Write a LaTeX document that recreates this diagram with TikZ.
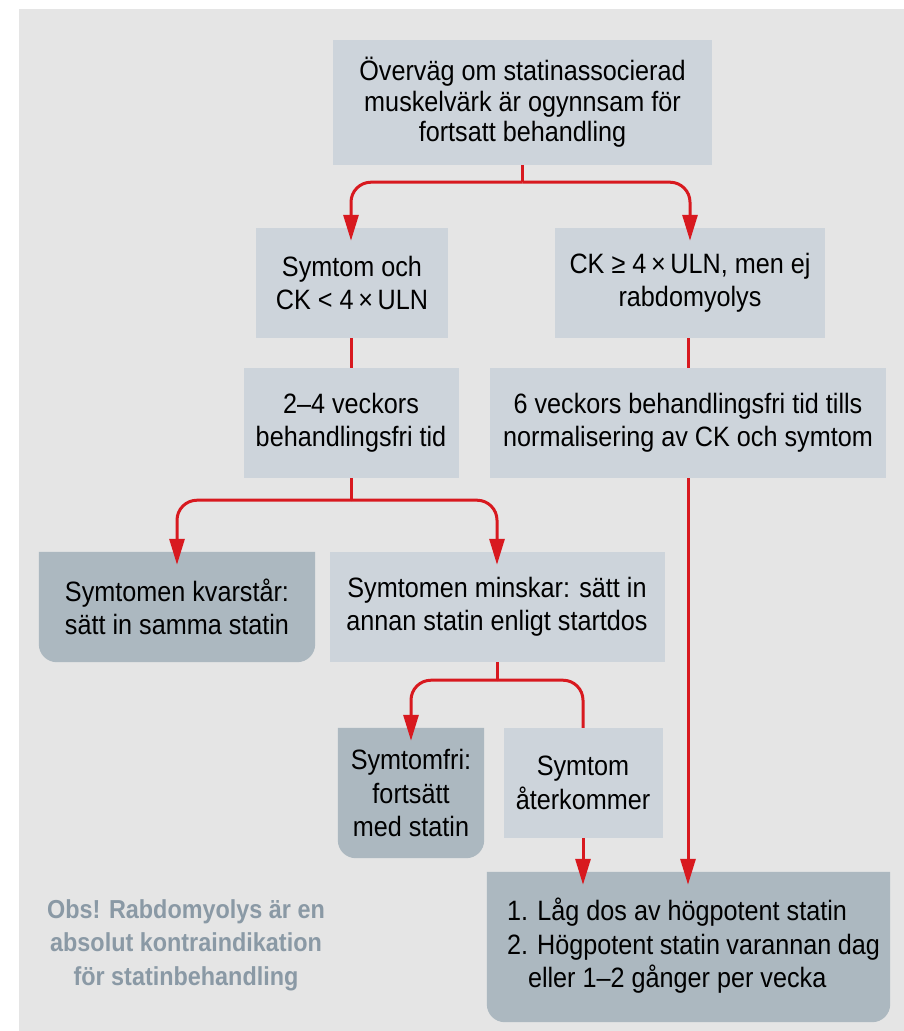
\documentclass[tikz,border=0pt]{standalone}
\usepackage{fontspec}
\setmainfont{Liberation Sans}[FakeStretch=0.9]
\usetikzlibrary{arrows.meta,backgrounds}
\definecolor{bgc}{HTML}{E5E5E5}
\definecolor{lightc}{HTML}{CDD4DB}
\definecolor{darkc}{HTML}{ACB8C0}
\definecolor{redc}{HTML}{D8191F}
\definecolor{notec}{HTML}{8A99A5}
\begin{document}
\begin{tikzpicture}[x=1pt,y=1pt,
  box/.style={inner sep=0pt, align=center, font=\fontsize{28}{33.5}\selectfont, text=black},
  lbox/.style={box, fill=lightc},
  dbox/.style={box},
  rline/.style={draw=redc, line width=3pt},
  rarrow/.style={rline, -{Triangle[width=15pt,length=26pt]}},
  darkfill/.style={fill=darkc},
]
\useasboundingbox (0,0) rectangle (904,-1031);
\begin{scope}[on background layer]
  \fill[bgc] (19,-9) rectangle (904,-1031);
\end{scope}

% boxes
\node[lbox, minimum width=379pt, minimum height=125pt, font=\fontsize{28}{30.5}\selectfont] (top) at (522.5,-102.5)
  {Överväg om statinassocierad\\muskelvärk är ogynnsam för\\fortsatt behandling};
\node[lbox, minimum width=192pt, minimum height=110pt] (A) at (352,-283)
  {Symtom och\\CK < 4\,×\,ULN};
\node[lbox, minimum width=270pt, minimum height=110pt] (B) at (690,-283)
  {CK ≥ 4\,×\,ULN, men ej\\rabdomyolys};
\node[lbox, minimum width=215pt, minimum height=110pt] (C) at (351,-423)
  {2–4 veckors\\behandlingsfri tid};
\node[lbox, minimum width=396pt, minimum height=110pt] (D) at (688,-423)
  {6 veckors behandlingsfri tid tills\\normalisering av CK och symtom};
\node[dbox, minimum width=276pt, minimum height=110pt] (E) at (177,-607)
  {Symtomen kvarstår:\\sätt in samma statin};
\node[lbox, minimum width=335pt, minimum height=110pt] (F) at (497,-607)
  {Symtomen minskar: sätt in\\annan statin enligt startdos};
\node[dbox, minimum width=146pt, minimum height=130pt] (G) at (411,-793)
  {Symtomfri:\\fortsätt\\med statin};
\node[lbox, minimum width=159pt, minimum height=110pt] (H) at (583,-783)
  {Symtom\\återkommer};
\node[dbox, inner xsep=10pt, text width=383pt, minimum height=150pt, align=flush left] (I) at (688.5,-947)
  {\hspace*{10pt}1. Låg dos av högpotent statin\\
   \hspace*{10pt}2. Högpotent statin varannan dag\\
   \hspace*{31pt}eller 1–2 gånger per vecka\vphantom{g}\raisebox{0pt}[0pt][8pt]{}};

\node[font=\bfseries\fontsize{26}{33.5}\selectfont, text=notec, align=center] (note) at (186,-945)
  {Obs! Rabdomyolys är en\\absolut kontraindikation\\för statinbehandling};

% dark boxes with rounded bottom corners
\begin{scope}[on background layer]
  \foreach \n in {E,G,I}{
    \fill[darkfill] (\n.north west) -- (\n.north east) -- ([yshift=18pt]\n.south east)
      arc[start angle=0,end angle=-90,radius=18pt] -- ([xshift=18pt]\n.south west)
      arc[start angle=270,end angle=180,radius=18pt] -- cycle;
  }
\end{scope}

% connectors
\draw[rline] (top.south) -- ++(0,-17) coordinate (t1);
\draw[rarrow, rounded corners=20pt] (t1) -| ([yshift=-13pt,xshift=-1pt]A.north);
\draw[rarrow, rounded corners=20pt] (t1) -| ([yshift=-13pt]B.north);

\draw[rline] (A.south -| C.north) -- (C.north);
\draw[rline] (B.south -| D.north) -- (D.north);

\draw[rline] (C.south) -- ++(0,-22) coordinate (c1);
\draw[rarrow, rounded corners=20pt] (c1) -| ([yshift=-13pt]E.north);
\draw[rarrow, rounded corners=20pt] (c1) -| ([yshift=-13pt]F.north);

\draw[rline] (F.south) -- ++(0,-18) coordinate (f1);
\draw[rarrow, rounded corners=20pt] (f1) -| ([yshift=-13pt]G.north);
\draw[rline, rounded corners=20pt] (f1) -| (H.north);

\draw[rarrow] (H.south) -- ([yshift=-13pt]H.south |- I.north);
\draw[rarrow] (D.south) -- ([yshift=-13pt]D.south |- I.north);
\end{tikzpicture}
\end{document}
